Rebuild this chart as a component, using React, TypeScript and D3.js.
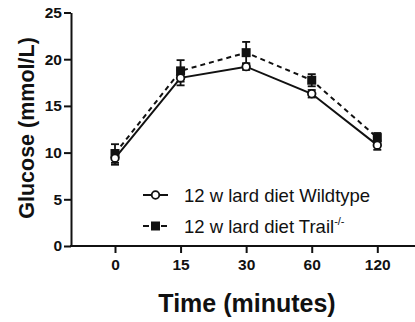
import * as React from 'react'
import { useEffect, useRef } from 'react'
import * as d3 from 'd3'

const times = ['0', '15', '30', '60', '120']
const wildtype = [9.4, 18.0, 19.2, 16.3, 10.8]
const wildtypeErr = [0.7, 0.8, 0.35, 0.4, 0.5]
const trail = [9.9, 18.75, 20.7, 17.75, 11.6]
const trailErr = [1.0, 1.15, 1.15, 0.65, 0.5]
const yTicks = [0, 5, 10, 15, 20, 25]

const W = 415
const H = 322
const FONT = 'Arial, "Liberation Sans", sans-serif'

export default function App() {
  const svgRef = useRef<SVGSVGElement>(null)

  useEffect(() => {
    if (!svgRef.current) return
    const svg = d3.select(svgRef.current)
    svg.selectAll('*').remove()

    const left = 71
    const right = 415
    const top = 12.5
    const bottom = 246

    const x = d3.scalePoint<string>()
      .domain(times)
      .range([115, 377.3])
    const y = d3.scaleLinear().domain([0, 25]).range([bottom, top])

    // y axis
    const yAxis = svg.append('g')
      .attr('transform', `translate(${left},0)`)
      .call(d3.axisLeft(y).tickValues(yTicks).tickSize(7).tickPadding(2).tickSizeOuter(0))
    yAxis.select('.domain').attr('stroke-width', 2).attr('stroke', '#111')
    yAxis.selectAll('.tick line').attr('stroke-width', 2).attr('stroke', '#111')
    yAxis.selectAll('.tick text')
      .attr('font-family', FONT)
      .attr('font-size', 15.5)
      .attr('font-weight', 'bold')
      .attr('fill', '#111')

    // x axis
    svg.append('line')
      .attr('x1', left - 1).attr('x2', right)
      .attr('y1', bottom).attr('y2', bottom)
      .attr('stroke', '#111').attr('stroke-width', 2)
    const xAxis = svg.append('g')
      .attr('transform', `translate(0,${bottom})`)
      .call(d3.axisBottom(x).tickSize(7).tickPadding(6).tickSizeOuter(0))
    xAxis.select('.domain').remove()
    xAxis.selectAll('.tick line').attr('stroke-width', 2).attr('stroke', '#111')
    xAxis.selectAll('.tick text')
      .attr('font-family', FONT)
      .attr('font-size', 15.5)
      .attr('font-weight', 'bold')
      .attr('fill', '#111')

    // titles
    svg.append('text')
      .attr('x', 247).attr('y', 312)
      .attr('text-anchor', 'middle')
      .attr('font-family', FONT)
      .attr('font-size', 25)
      .attr('font-weight', 'bold')
      .attr('fill', '#111')
      .text('Time (minutes)')
    svg.append('text')
      .attr('transform', `translate(34,128) rotate(-90)`)
      .attr('text-anchor', 'middle')
      .attr('font-family', FONT)
      .attr('font-size', 21.5)
      .attr('font-weight', 'bold')
      .attr('fill', '#111')
      .text('Glucose (mmol/L)')

    const line = d3.line<number>()
      .x((_, i) => x(times[i]) as number)
      .y(d => y(d))

    const drawErr = (vals: number[], errs: number[]) => {
      vals.forEach((v, i) => {
        const cx = x(times[i]) as number
        const g = svg.append('g').attr('stroke', '#111').attr('stroke-width', 1.8)
        g.append('line').attr('x1', cx).attr('x2', cx)
          .attr('y1', y(v - errs[i])).attr('y2', y(v + errs[i]))
        ;[v - errs[i], v + errs[i]].forEach(e => {
          g.append('line').attr('x1', cx - 4).attr('x2', cx + 4)
            .attr('y1', y(e)).attr('y2', y(e))
        })
      })
    }

    drawErr(trail, trailErr)
    drawErr(wildtype, wildtypeErr)

    svg.append('path')
      .attr('d', line(trail) as string)
      .attr('fill', 'none')
      .attr('stroke', '#111')
      .attr('stroke-width', 2)
      .attr('stroke-dasharray', '5,4')
    svg.append('path')
      .attr('d', line(wildtype) as string)
      .attr('fill', 'none')
      .attr('stroke', '#111')
      .attr('stroke-width', 2)

    trail.forEach((v, i) => {
      svg.append('rect')
        .attr('x', (x(times[i]) as number) - 4.5)
        .attr('y', y(v) - 4.5)
        .attr('width', 9).attr('height', 9)
        .attr('fill', '#111')
    })
    wildtype.forEach((v, i) => {
      svg.append('circle')
        .attr('cx', x(times[i]) as number)
        .attr('cy', y(v))
        .attr('r', 3.8)
        .attr('fill', '#fff')
        .attr('stroke', '#111')
        .attr('stroke-width', 1.8)
    })

    // legend
    const lx = 143
    const lg = svg.append('g')
    lg.append('line').attr('x1', lx).attr('x2', lx + 25)
      .attr('y1', 195).attr('y2', 195)
      .attr('stroke', '#111').attr('stroke-width', 2)
    lg.append('circle').attr('cx', lx + 12.5).attr('cy', 195).attr('r', 3.8)
      .attr('fill', '#fff').attr('stroke', '#111').attr('stroke-width', 1.8)
    lg.append('text').attr('x', 184).attr('y', 201.5)
      .attr('font-family', FONT).attr('font-size', 18.5).attr('fill', '#111')
      .text('12 w lard diet Wildtype')

    lg.append('line').attr('x1', lx).attr('x2', lx + 25)
      .attr('y1', 226).attr('y2', 226)
      .attr('stroke', '#111').attr('stroke-width', 2)
      .attr('stroke-dasharray', '6,3')
    lg.append('rect').attr('x', lx + 8).attr('y', 221.5)
      .attr('width', 9).attr('height', 9).attr('fill', '#111')
    const t2 = lg.append('text').attr('x', 184).attr('y', 232.5)
      .attr('font-family', FONT).attr('font-size', 18.5).attr('fill', '#111')
    t2.append('tspan').text('12 w lard diet Trail')
    t2.append('tspan').attr('dy', -8).attr('font-size', 11).text('-/-')
  }, [])

  return (
    <svg
      ref={svgRef}
      width={W}
      height={H}
      style={{ position: 'absolute', left: 0, top: 0, background: '#fff' }}
    />
  )
}
